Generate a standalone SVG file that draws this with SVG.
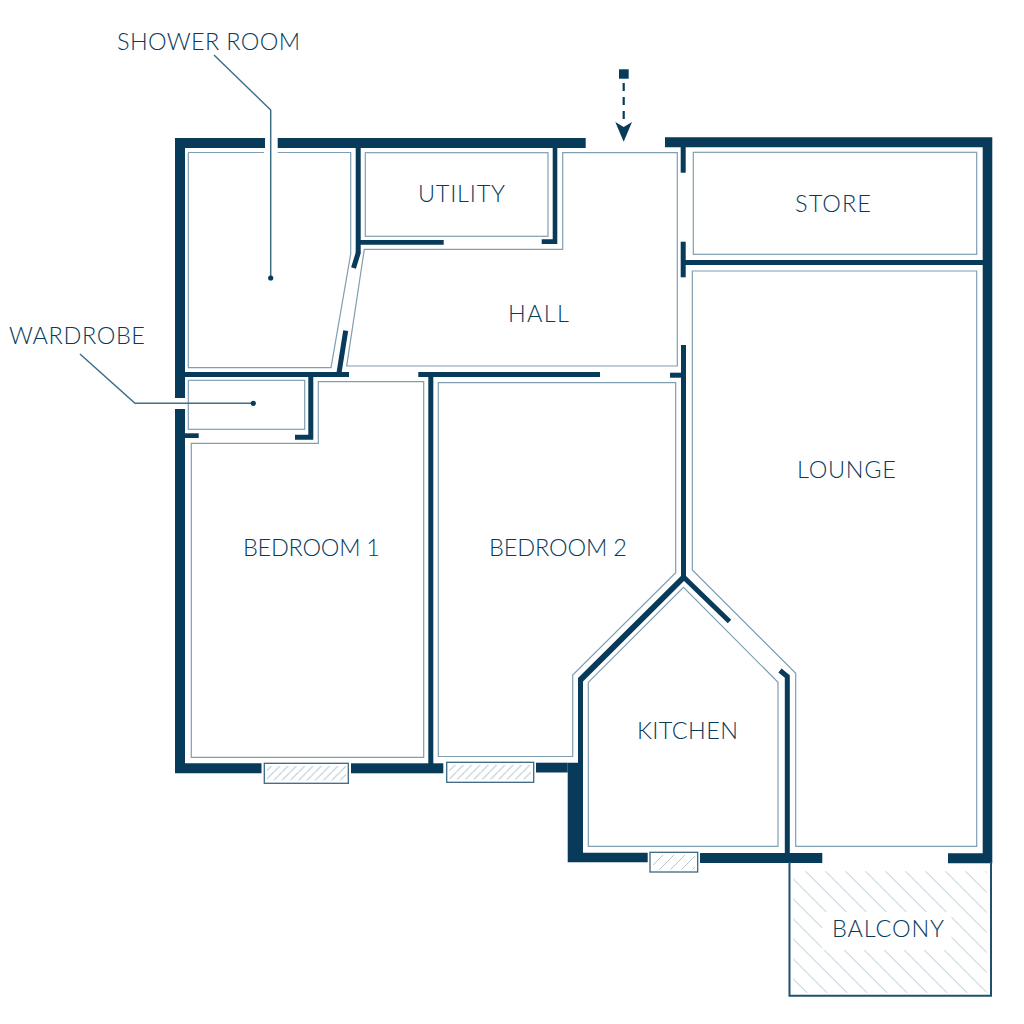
<svg xmlns="http://www.w3.org/2000/svg" width="1024" height="1024" viewBox="0 0 1024 1024">
<style>
.wall{fill:#083a5a}
.w5{fill:none;stroke:#083a5a;stroke-width:5}
.inner{fill:none;stroke:#7f9eb1;stroke-width:1.2}
.win{fill:#fff;stroke:#3c6883;stroke-width:1.3}
.leader{fill:none;stroke:#3f6f8a;stroke-width:1.5}
.dot{fill:#083a5a}
.hatch{fill:none;stroke:#b5c6d1;stroke-width:1}
text{font-family:"Lato","Open Sans","Liberation Sans",sans-serif;font-weight:300;font-size:23.5px;fill:#083a5a}
</style>
<defs>
<pattern id="h8" patternUnits="userSpaceOnUse" width="8.3" height="8.3"><path d="M0 8.3L8.3 0" stroke="#b5c6d1" stroke-width="1"/></pattern>
<pattern id="h11" patternUnits="userSpaceOnUse" width="11" height="11"><path d="M0 11L11 0" stroke="#b5c6d1" stroke-width="1"/></pattern>
<clipPath id="bc"><rect x="793.3" y="871.3" width="193.4" height="121.4"/></clipPath>
</defs>
<rect width="1024" height="1024" fill="#fff"/>
<g id="walls">
<path class="wall" d="M175 138H265V148H185V398H175Z"/>
<rect class="wall" x="277.7" y="138" width="308" height="10"/>
<path class="wall" d="M665 137.3H992.3V863.3H948V853.3H982.7V147.3H665Z"/>
<path class="wall" d="M175 409H185V763.3H261.5V773.3H175Z"/>
<rect class="wall" x="351" y="763.3" width="92.3" height="10"/>
<path class="wall" d="M536 762.7H567.7V772.5H536Z"/>
<path class="wall" d="M567.7 762.7H578V678L683.5 573.5L686 576V579L583 681.5V852.7H647.7V862.3H567.7Z"/>
<rect class="wall" x="700" y="853" width="122.3" height="10"/>
<path class="wall" d="M355.7 148H360.7V240H443.7V244.7H360.7V253H355.7Z"/>
<path class="w5" d="M358.5 252L353.5 268"/>
<path class="w5" d="M345.7 330.7L339 373"/>
<rect class="wall" x="185" y="372" width="164" height="5"/>
<rect class="wall" x="185" y="433.3" width="13.7" height="4.7"/>
<path class="wall" d="M308.3 377H313.3V439.7H295V434.7H308.3Z"/>
<rect class="wall" x="428.3" y="372" width="5" height="392"/>
<rect class="wall" x="418.3" y="372" width="181.7" height="5"/>
<path class="wall" d="M552.7 148H557.3V244H541.7V239.3H552.7Z"/>
<rect class="wall" x="680.7" y="147" width="5" height="25.7"/>
<rect class="wall" x="680.7" y="241.7" width="5" height="35.6"/>
<rect class="wall" x="685" y="260" width="298" height="5"/>
<rect class="wall" x="681" y="345" width="5" height="232"/>
<rect class="wall" x="670" y="372.7" width="11" height="5"/>
<path class="w5" d="M683.5 577L729.5 621.5"/>
<path class="w5" d="M780 670.5L787.3 676.5V853"/>
</g>
<g id="room-shower"><path class="inner" d="M188.3 152.5H264M277.7 152.5H350.7V254L331 367.7H188.3V152.5"/></g>
<g id="room-utility"><rect class="inner" x="365.3" y="152.7" width="182.7" height="83.6"/><text x="418" y="202" textLength="87">UTILITY</text></g>
<g id="room-hall"><path class="inner" d="M562.7 152.7H677.3V366H346.7L364.3 249.3H562.7Z"/><text x="508" y="322" textLength="61">HALL</text></g>
<g id="room-store"><rect class="inner" x="693.3" y="152.3" width="283.4" height="102"/><text x="795" y="212" textLength="76">STORE</text></g>
<g id="room-lounge"><path class="inner" d="M692.3 271H976.7V846.3H795.7V673.3L692.3 570Z"/><text x="797" y="478" textLength="99">LOUNGE</text></g>
<g id="room-wardrobe"><rect class="inner" x="188.3" y="380.3" width="116.4" height="49"/></g>
<g id="room-bedroom1"><path class="inner" d="M191.3 443.3H318.3V381.7H423.7V757.3H191.3Z"/><text x="243" y="556" textLength="137">BEDROOM 1</text></g>
<g id="room-bedroom2"><path class="inner" d="M438.3 382.7H675.7V572.7L572.7 675V756.5H438.3Z"/><text x="489" y="556" textLength="138">BEDROOM 2</text></g>
<g id="room-kitchen"><path class="inner" d="M588.3 682.3L683.5 587.3L778 682.3V846.3H588.3Z"/><text x="637" y="739.3" textLength="101">KITCHEN</text></g>
<g id="windows">
<rect class="win" x="264.3" y="763.3" width="84" height="20"/><rect fill="url(#h8)" x="267" y="766" width="79" height="14.5"/>
<rect class="win" x="446.7" y="762.3" width="87" height="20"/><rect fill="url(#h8)" x="449.5" y="765" width="81.5" height="14.5"/>
<rect class="win" x="650" y="852.3" width="47.7" height="19.7"/><rect fill="url(#h11)" x="653" y="855" width="42" height="14.5"/>
</g>
<g id="room-balcony">
<path class="hatch" clip-path="url(#bc)" d="M674.33 860L814.33 1000M694.33 860L834.33 1000M714.33 860L854.33 1000M734.33 860L874.33 1000M754.33 860L894.33 1000M774.33 860L914.33 1000M794.33 860L934.33 1000M814.33 860L954.33 1000M834.33 860L974.33 1000M854.33 860L994.33 1000M874.33 860L1014.33 1000M894.33 860L1034.33 1000M914.33 860L1054.33 1000M934.33 860L1074.33 1000M954.33 860L1094.33 1000M974.33 860L1114.33 1000"/>
<rect x="822" y="912" width="129.5" height="38" fill="#fff"/>
<path fill="none" stroke="#1f5070" stroke-width="2" d="M789.5 862V995.7H991V862"/>
<text x="832" y="937" textLength="112">BALCONY</text>
</g>
<g id="connectors">
<path class="leader" d="M214 55L270.7 110V278"/>
<circle class="dot" cx="270.7" cy="278" r="2.6"/>
<path class="leader" d="M80 354L135 403.3H253"/>
<circle class="dot" cx="253.3" cy="403.3" r="2.6"/>
<rect class="wall" x="619" y="69.3" width="9.7" height="9.4"/>
<path fill="none" stroke="#083a5a" stroke-width="2.2" stroke-dasharray="8 6" d="M623.7 83V122"/>
<path class="wall" d="M615.3 122L623.7 127L632 122L623.7 141.7Z"/>
</g>
<g id="labels">
<text x="117" y="50" textLength="183">SHOWER ROOM</text>
<text x="9" y="344" textLength="136">WARDROBE</text>
</g>
</svg>
